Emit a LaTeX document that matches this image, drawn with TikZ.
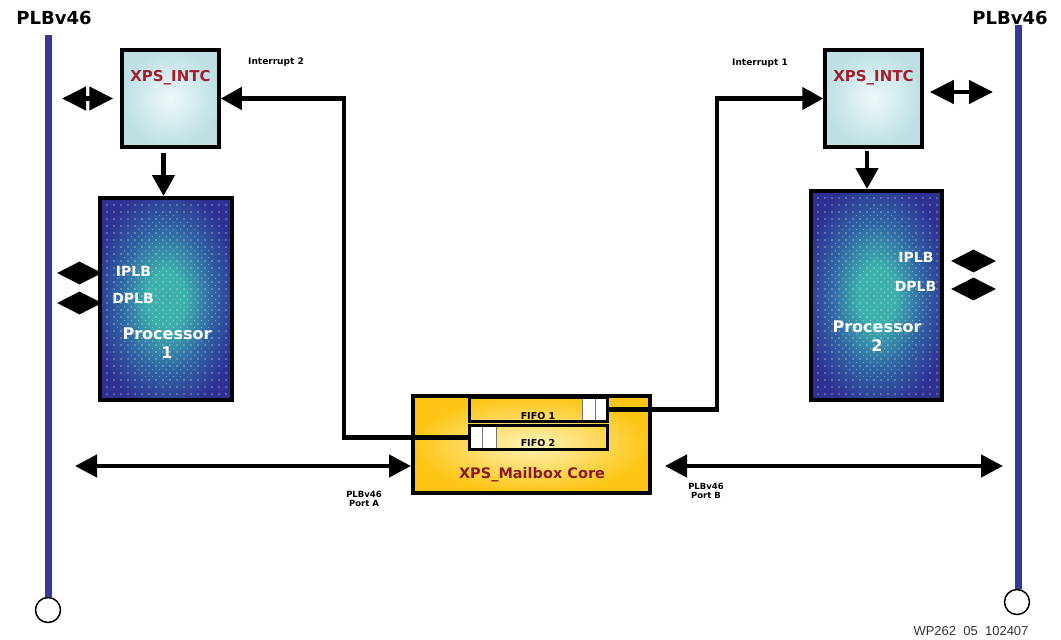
\documentclass[tikz,border=0pt]{standalone}
\usepackage{fontspec}
\setmainfont{DejaVu Sans}
\newfontfamily\figfont{Liberation Sans}
\usetikzlibrary{arrows.meta,shapes.geometric}
\definecolor{busblue}{HTML}{34399A}
\definecolor{intcblue}{HTML}{BCE0E4}
\definecolor{intcpale}{HTML}{EEF8F9}
\definecolor{procblue}{HTML}{2E3192}
\definecolor{procmid}{HTML}{2F62A4}
\definecolor{procteal}{HTML}{3DB0AC}
\definecolor{coregold}{HTML}{FDC515}
\definecolor{corepale}{HTML}{FFF3B8}
\definecolor{labelred}{HTML}{A51E2D}
\definecolor{corered}{HTML}{8E1B1B}
\pgfdeclareradialshading{procshade}{\pgfpoint{0bp}{0bp}}{%
  color(0bp)=(procteal); color(7bp)=(procteal); color(18bp)=(procmid);
  color(28bp)=(procblue); color(50bp)=(procblue)}

\begin{document}
\begin{tikzpicture}[
  x=1pt, y=-1pt, font=\bfseries,
  bus/.style={busblue,line width=7pt},
  busend/.style={circle,draw,line width=1.5pt,fill=white,minimum size=25pt,inner sep=0pt},
  intc/.style={draw,line width=3.5pt,minimum width=97pt,minimum height=97pt,inner color=intcpale,outer color=intcblue},
  proc/.style={draw,line width=4pt,shading=procshade,shade},
  core/.style={draw,line width=4pt,minimum width=237pt,minimum height=97pt,inner color=corepale,outer color=coregold},
  fifo/.style={draw,line width=3pt,minimum width=138pt,minimum height=24pt,inner sep=0pt},
  cell/.style={draw=black!55,fill=white,line width=1pt,minimum width=13pt,minimum height=23pt,inner sep=0pt},
  port/.style={diamond,fill=black,minimum width=45pt,minimum height=23pt,inner sep=0pt},
  wire/.style={line width=4.5pt},
  ar/.style={-{Triangle[length=21pt,width=22pt]}},
  dar/.style={line width=4.5pt,{Triangle[length=22pt,width=22pt]}-{Triangle[length=22pt,width=22pt]}},
  sar/.style={line width=4.5pt,{Triangle[length=24pt,width=23pt]}-{Triangle[length=24pt,width=23pt]}},
  bustext/.style={font=\fontsize{18}{20}\selectfont\bfseries},
  intctext/.style={text=labelred,font=\fontsize{15}{17}\selectfont\bfseries},
  proctext/.style={text=white,font=\fontsize{14}{16}\selectfont\bfseries},
  procname/.style={text=white,align=center,font=\fontsize{16}{19}\selectfont\bfseries},
  small/.style={font=\fontsize{9}{10}\selectfont\bfseries,align=center},
  fifotext/.style={font=\fontsize{9.5}{11}\selectfont\bfseries}
]
\useasboundingbox (0,0) rectangle (1061,640);

% PLB buses
\node[bustext] (busl) at (54,18) {PLBv46};
\node[bustext] (busr) at (1010,18) {PLBv46};
\node[busend] (endl) at (48,610) {};
\node[busend] (endr) at (1017,602) {};
\coordinate (topl) at (48,35);
\coordinate (topr) at (1018,25);
\draw[bus] (topl) -- (topl |- endl.north);
\draw[bus] (topr) -- (topr |- endr.north);

% interrupt controllers and processors
\node[intc] (intc1) at (170.5,98.5) {};
\node[intc] (intc2) at (873.5,98.5) {};
\node[intctext] (intc1txt) at (170.5,78) {XPS\_INTC};
\node[intctext] (intc2txt) at (873.5,78) {XPS\_INTC};
\node[proc,minimum width=132pt,minimum height=202pt] (proc1) at (166,299) {};
\node[proc,minimum width=131pt,minimum height=209pt] (proc2) at (876.5,295.5) {};
\foreach \i in {0,...,17}
  \foreach \j in {0,...,27}
    \fill[white,opacity=.5] ([shift={(9+7*\i,9+7*\j)}]proc1.north west) circle (.8);
\foreach \i in {0,...,17}
  \foreach \j in {0,...,28}
    \fill[white,opacity=.5] ([shift={(9+7*\i,9+7*\j)}]proc2.north west) circle (.8);
\begin{scope}
  \clip (proc1.center) ellipse (52 and 85);
  \foreach \i in {0,...,16}
    \foreach \j in {0,...,26}
      \fill[white,opacity=.4] ([shift={(12.5+7*\i,12.5+7*\j)}]proc1.north west) circle (.7);
\end{scope}
\begin{scope}
  \clip (proc2.center) ellipse (52 and 88);
  \foreach \i in {0,...,16}
    \foreach \j in {0,...,27}
      \fill[white,opacity=.4] ([shift={(12.5+7*\i,12.5+7*\j)}]proc2.north west) circle (.7);
\end{scope}
\node[proctext] (ipl1) at (133.5,271) {IPLB};
\node[proctext] (dpl1) at (133,298) {DPLB};
\node[procname] (pname1) at (167,343) {Processor\\1};
\node[proctext] (ipl2) at (916,257) {IPLB};
\node[proctext] (dpl2) at (915.5,286) {DPLB};
\node[procname] (pname2) at (877,336) {Processor\\2};
\node[port] (pi1) at (79.5,273) {};
\node[port] (pd1) at (79.5,303) {};
\node[port] (pi2) at (973.5,261) {};
\node[port] (pd2) at (973.5,289) {};

% mailbox
\node[core] (core) at (531.5,444.5) {};
\node[cell] (f1a) at (588.5,409.5) {};
\node[cell] (f1b) at (601.5,409.5) {};
\node[cell,minimum width=14pt] (f2a) at (475,437.5) {};
\node[cell,minimum width=14pt] (f2b) at (489.5,437.5) {};
\node[fifo] (fifo1) at (538.5,409.5) {};
\node[fifo] (fifo2) at (538.5,437.5) {};
\node[fifotext] (fifo1txt) at (538,416) {FIFO 1};
\node[fifotext] (fifo2txt) at (538,443) {FIFO 2};
\node[text=corered,font=\fontsize{14.5}{16}\selectfont\bfseries] (coretxt) at (532,475) {XPS\_Mailbox Core};

% labels
\node[small] (irq2) at (276,62) {Interrupt 2};
\node[small] (irq1) at (760,63) {Interrupt 1};
\node[small,font=\fontsize{8.5}{9.5}\selectfont\bfseries] (porta) at (364,499) {PLBv46\\Port A};
\node[small,font=\fontsize{8.5}{9.5}\selectfont\bfseries] (portb) at (706,491) {PLBv46\\Port B};
\node[text=black!80,font=\figfont\fontsize{13}{15}\selectfont] (docid) at (971,631) {WP262\ \ 05\ \ 102407};

% connections
\coordinate (bend2) at (344,437.5);
\coordinate (bend1) at (717,409.5);
\draw[wire,ar] (f2a.west) -- (bend2) |- (intc1.east);
\draw[wire,ar] (f1b.east) -- (bend1) |- (intc2.west);
\draw[wire,ar,shorten <=4pt] ([xshift=-7pt]intc1.south) -- ([xshift=-7pt]intc1.south |- proc1.north);
\draw[wire,ar,shorten <=2pt] ([xshift=-6.5pt]intc2.south) -- ([xshift=-6.5pt]intc2.south |- proc2.north);
\coordinate (al1) at (62,98.5);
\coordinate (ar2) at (993,92);
\draw[sar,shorten >=7pt] (al1) -- (intc1.west);
\draw[sar,shorten <=6pt] (intc2.east |- ar2) -- (ar2);
\coordinate (pa) at (75,466);
\coordinate (pb) at (1003,466);
\draw[dar] (pa) -- (pa -| core.west);
\draw[dar,shorten <=13pt] (core.east |- pb) -- (pb);
\end{tikzpicture}
\end{document}
